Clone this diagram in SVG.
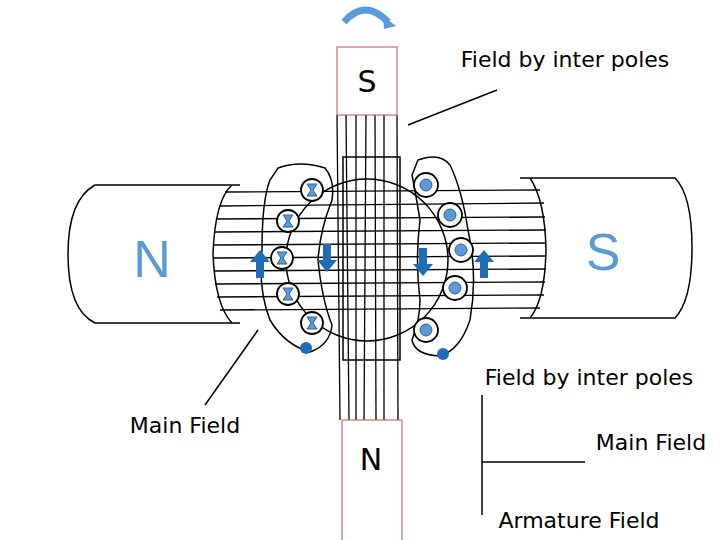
<svg xmlns="http://www.w3.org/2000/svg" width="720" height="540" viewBox="0 0 720 540">
<style>
.k{fill:none;stroke:#000;stroke-width:1.5}
.t{font-family:"DejaVu Sans",sans-serif;fill:#000}
.c{fill:#fff;stroke:#000;stroke-width:1.8}
.b{fill:#5b9bd5;stroke:#2e5f96;stroke-width:1}
.a{fill:#1f6db5}
</style>
<rect width="720" height="540" fill="#fff"/>
<g id="left-magnet">
<path class="k" d="M240 185 H95 Q68 200 68 254 Q68 310 95 323 H240"/>
<text x="152" y="277" font-family="Liberation Sans,sans-serif" font-size="52" fill="#5b9bd5" text-anchor="middle">N</text>
</g>
<g id="right-magnet">
<path class="k" d="M520 178 H675 Q692 195 692 248 Q692 300 675 318 H520"/>
<text x="603" y="270" font-family="Liberation Sans,sans-serif" font-size="52" fill="#5b9bd5" text-anchor="middle">S</text>
</g>
<g id="field-lines" stroke="#000" stroke-width="1.3">
<path class="k" d="M232 185 Q215 200 213 254 Q215 305 232 323"/>
<path class="k" d="M530 178 Q545 200 546 250 Q545 300 530 318"/>
<line x1="225" y1="192" x2="540" y2="190"/><line x1="220" y1="206" x2="544" y2="203"/>
<line x1="217" y1="219" x2="545" y2="217"/><line x1="215" y1="232" x2="546" y2="230"/>
<line x1="214" y1="245" x2="546" y2="243"/><line x1="214" y1="258" x2="546" y2="256"/>
<line x1="214" y1="271" x2="546" y2="269"/><line x1="215" y1="284" x2="545" y2="282"/>
<line x1="217" y1="297" x2="544" y2="295"/><line x1="220" y1="310" x2="540" y2="308"/>
<line x1="337" y1="115" x2="340" y2="420"/><line x1="346" y1="115" x2="349" y2="420"/>
<line x1="356" y1="115" x2="356" y2="420"/><line x1="366" y1="115" x2="364" y2="420"/>
<line x1="375" y1="115" x2="376" y2="420"/><line x1="384" y1="115" x2="384" y2="420"/>
<line x1="397" y1="115" x2="398" y2="420"/>
<rect class="k" x="343" y="157" width="57" height="203" stroke-width="1"/>
</g>
<g id="top-pole">
<rect x="337" y="47" width="60" height="68" fill="none" stroke="#c0504d" stroke-width="1"/>
<text x="367" y="92" class="t" font-size="30" text-anchor="middle">S</text>
<path d="M344 22 Q365 -2 388 22" fill="none" stroke="#5b9bd5" stroke-width="7"/>
<path d="M383 16 L396 26 L384 29 Z" fill="#5b9bd5"/>
</g>
<g id="bottom-pole">
<rect x="342" y="420" width="60" height="125" fill="none" stroke="#c0504d" stroke-width="1"/>
<text x="371" y="470" class="t" font-size="30" text-anchor="middle">N</text>
</g>
<g id="armature">
<circle class="k" cx="367" cy="260" r="81"/>
</g>
<g id="coils">
<path class="k" d="M278 168 Q300 160 325 168 Q335 180 332 200 Q320 230 318 260 Q322 300 332 325 Q330 345 310 352 Q285 345 270 320 Q258 290 262 250 Q262 200 270 180 Z"/>
<path class="k" d="M418 160 Q440 152 450 165 Q462 190 468 230 Q478 275 470 320 Q460 350 440 356 Q415 355 412 340 Q420 320 420 300 Q415 260 420 220 Q415 190 412 175 Z"/>
</g>
<g id="conductors">
<circle class="c" cx="312" cy="190" r="11"/><circle class="c" cx="288" cy="221" r="11"/>
<circle class="c" cx="282" cy="258" r="11"/><circle class="c" cx="288" cy="294" r="11"/>
<circle class="c" cx="312" cy="323" r="11"/>
<g class="b">
<path d="M307 184 H317 L313 190 L317 196 H307 L311 190 Z"/>
<path d="M283 215 H293 L289 221 L293 227 H283 L287 221 Z"/>
<path d="M277 252 H287 L283 258 L287 264 H277 L281 258 Z"/>
<path d="M283 288 H293 L289 294 L293 300 H283 L287 294 Z"/>
<path d="M307 317 H317 L313 323 L317 329 H307 L311 323 Z"/>
</g>
<circle class="c" cx="426" cy="185" r="12"/><circle class="c" cx="450" cy="215" r="12"/>
<circle class="c" cx="461" cy="250" r="12"/><circle class="c" cx="455" cy="288" r="12"/>
<circle class="c" cx="426" cy="330" r="12"/>
<circle class="b" cx="426" cy="185" r="6"/><circle class="b" cx="450" cy="215" r="6"/>
<circle class="b" cx="461" cy="250" r="6"/><circle class="b" cx="455" cy="288" r="6"/>
<circle class="b" cx="426" cy="330" r="6"/>
<circle class="a" cx="306" cy="348" r="6"/><circle class="a" cx="443" cy="354" r="6"/>
</g>
<g id="force-arrows" class="a">
<path d="M260 250 L270 262 H264 V278 H256 V262 H250 Z"/>
<path d="M484 250 L494 262 H488 V278 H480 V262 H474 Z"/>
<path d="M327 272 L337 260 H331 V244 H323 V260 H317 Z"/>
<path d="M423 276 L433 264 H427 V248 H419 V264 H413 Z"/>
</g>
<g id="connectors" stroke="#000" stroke-width="1.5">
<line x1="497" y1="90" x2="408" y2="125"/>
<line x1="258" y1="330" x2="205" y2="405"/>
<line x1="482" y1="395" x2="482" y2="515"/>
<line x1="482" y1="462" x2="585" y2="462"/>
</g>
<g id="labels" class="t" font-size="22">
<text x="565" y="67" text-anchor="middle">Field by inter poles</text>
<text x="589" y="385" text-anchor="middle">Field by inter poles</text>
<text x="185" y="433" text-anchor="middle">Main Field</text>
<text x="651" y="450" text-anchor="middle">Main Field</text>
<text x="579" y="528" text-anchor="middle">Armature Field</text>
</g>
</svg>
